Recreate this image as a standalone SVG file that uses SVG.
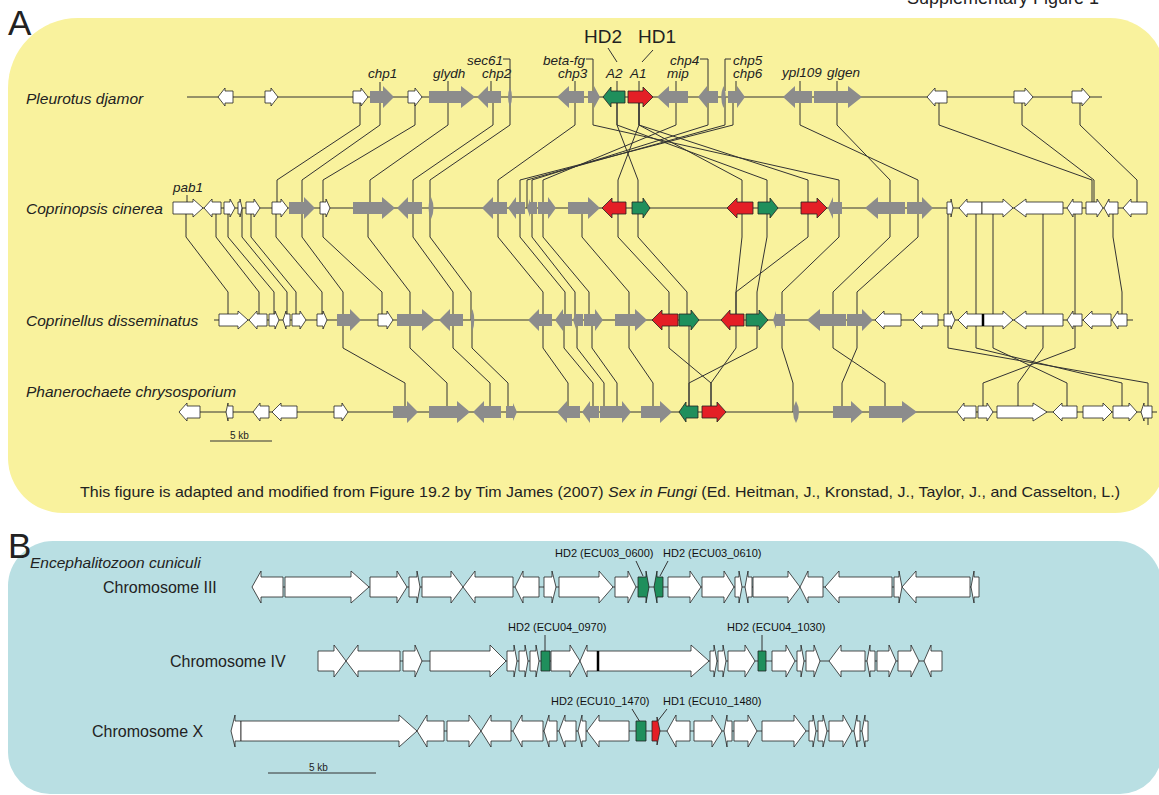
<svg xmlns="http://www.w3.org/2000/svg" width="1159" height="795" viewBox="0 0 1159 795">
<style>
.w{fill:#fff;stroke:#222;stroke-width:.8}
.g{fill:#8c8c8c}
.r{fill:#e41f26;stroke:#222;stroke-width:.8}
.n{fill:#1f8f5c;stroke:#222;stroke-width:.8}
.ln{stroke:#333;stroke-width:1;fill:none}
.bl{stroke:#444;stroke-width:1.2;fill:none}
.sp{font-family:'Liberation Sans',Arial,sans-serif;font-style:italic;font-size:15.5px;fill:#222}
.gl{font-family:'Liberation Sans',Arial,sans-serif;font-style:italic;font-size:13.5px;fill:#222}
.t{font-family:'Liberation Sans',Arial,sans-serif;fill:#222}
.bt{font-family:'Liberation Sans',Arial,sans-serif;font-size:11px;fill:#111}
.seam{stroke:#000;stroke-width:2.5}
</style>
<rect width="1159" height="795" fill="#fff"/>
<text class="t" x="907" y="4" font-size="18">Supplementary Figure 1</text>
<path id="panelA" d="M8,88 A70,70 0 0 1 78,18 H1110 A55,55 0 0 1 1165,73 V463 A50,50 0 0 1 1115,513 H63 A55,55 0 0 1 8,458 Z" fill="#f9f29d"/>
<path id="panelB" d="M8,586 A45,45 0 0 1 53,541 H1117 A45,45 0 0 1 1162,586 V752 A42,42 0 0 1 1120,794 H50 A42,42 0 0 1 8,752 Z" fill="#b9dfe3"/>
<text class="t" x="8" y="35" font-size="35">A</text>
<text class="t" x="8" y="558" font-size="35">B</text>

<g id="connectors" class="ln">
<path d="M360,97V125L277,180V208M380,97V125L302,180V208M415,97V125L323,180V208M448,97V125L370,180V208M493,97V125L413,180V208M510,97V125L430,180V208M575,97V125L498,180V208M593,97V125L839,180V208M617,97V125L638,180V208M617,97V125L767,180V208M639,97V125L618,180V208M639,97V125L742,180V208M639,97V125L808,180V208M676,97V125L543,180V208M708,97V125L532,180V208M725,97V125L527,180V208M733,97V125L520,180V208M800,97V125L918,180V208M837,97V125L890,180V208M939,97V125L1092,180V208M1022,97V125L1094,180V208M1080,97V125L1137,180V208"/>
<path d="M186,208V237L228,292V320M216,208V237L259,292V320M228,208V237L274,292V320M242,208V237L287,292V320M251,208V237L296,292V320M276,208V237L322,292V320M302,208V237L343,292V320M323,208V237L382,292V320M368,208V237L410,292V320M413,208V237L453,292V320M430,208V237L471,292V320M498,208V237L543,292V320M520,208V237L565,292V320M532,208V237L575,292V320M543,208V237L589,292V320M582,208V237L629,292V320M618,208V237L669,292V320M638,208V237L687,292V320M742,208V237L736,292V320M808,208V237L736,292V320M767,208V237L757,292V320M839,208V237L782,292V320M890,208V237L833,292V320M918,208V237L857,292V320M948,208V320M976,208V320M993,208V320M1043,208V320M1075,208V320M1113,208V237L1122,292V320"/>
<path d="M343,320V348L405,383V412M410,320V348L447,383V412M453,320V348L490,383V412M472,320V348L508,383V412M543,320V348L568,383V412M564,320V348L593,383V412M577,320V348L604,383V412M592,320V348L617,383V412M629,320V348L653,383V412M669,320V348L711,383V412M689,320V412M736,320V348L711,383V412M757,320V348L689,383V412M782,320V348L793,383V412M833,320V348L885,383V412M857,320V348L842,383V412M948,320V348L1148,383V425M976,320V348L1122,383V412M993,320V348L1067,383V412M1043,320V348L1018,383V412M1075,320V348L983,383V412"/>
</g>

<g id="labelsA">
<text class="sp" x="26" y="104">Pleurotus djamor</text>
<text class="sp" x="26" y="214">Coprinopsis cinerea</text>
<text class="sp" x="26" y="326">Coprinellus disseminatus</text>
<text class="sp" x="26" y="397">Phanerochaete chrysosporium</text>
<text class="gl" x="368" y="78">chp1</text>
<text class="gl" x="433" y="78">glydh</text>
<text class="gl" x="467" y="65">sec61</text>
<text class="gl" x="482" y="78" font-size="11.5">chp2</text>
<text class="gl" x="543" y="65">beta-fg</text>
<text class="gl" x="558" y="78">chp3</text>
<text class="t" x="584" y="43" font-size="19">HD2</text>
<text class="t" x="638" y="43" font-size="19">HD1</text>
<text class="gl" x="606" y="78" font-size="17">A2</text>
<text class="gl" x="630" y="78" font-size="17">A1</text>
<text class="gl" x="670" y="65">chp4</text>
<text class="gl" x="667" y="78">mip</text>
<text class="gl" x="733" y="65">chp5</text>
<text class="gl" x="733" y="78">chp6</text>
<text class="gl" x="782" y="77">ypl109</text>
<text class="gl" x="827" y="77">glgen</text>
<text class="gl" x="173" y="192">pab1</text>
<path class="ln" d="M380,82V92M448,81V91M503,59H510V91M491,81V91M586,59H593V91M575,81V91M608,48L617,62M653,50L642,62M617,81V91M639,81V91M700,59H708V91M676,81V91M731,59H725V91M736,81V91M800,81V91M837,81V91M187,195V203"/>
</g>

<g id="row1" transform="translate(0,97)">
<path class="ln" d="M187,0H1102"/>
<path id="r1g1" class="w" d="M233,-6H225V-9L218,0L225,9V6H233Z"/>
<path id="r1g2" class="w" d="M265,-6H271V-9L278,0L271,9V6H265Z"/>
<path id="r1g3" class="w" d="M353,-6H361V-9L368,0L361,9V6H353Z"/>
<path id="r1g4" class="g" d="M370,-6H383V-11L394,0L383,11V6H370Z"/>
<path id="r1g5" class="w" d="M408,-6H415V-9L422,0L415,9V6H408Z"/>
<path id="r1g6" class="g" d="M429,-6H461V-11L475,0L461,11V6H429Z"/>
<path id="r1g7" class="g" d="M501,-6H488V-11L477,0L488,11V6H501Z"/>
<path id="r1g8" class="g" d="M510,-10Q514,0 510,10Q506,0 510,-10Z"/>
<path id="r1g9" class="g" d="M584,-6H569V-11L557,0L569,11V6H584Z"/>
<path id="r1g10" class="g" d="M588,-6H594V-11L600,0L594,11V6H588Z"/>
<path id="r1g11" class="n" d="M625,-6H611V-10L603,0L611,10V6H625Z"/>
<path id="r1g12" class="r" d="M628,-6H643V-10L653,0L643,10V6H628Z"/>
<path id="r1g13" class="g" d="M688,-6H669V-11L657,0L669,11V6H688Z"/>
<path id="r1g14" class="g" d="M718,-6H707V-11L698,0L707,11V6H718Z"/>
<path id="r1g15" class="g" d="M723.5,-11Q728,0 723.5,11Q719,0 723.5,-11Z"/>
<path id="r1g16" class="g" d="M728,-6H737V-11L745,0L737,11V6H728Z"/>
<path id="r1g17" class="g" d="M812,-6H795V-11L783,0L795,11V6H812Z"/>
<path id="r1g18" class="g" d="M814,-6H848V-11L862,0L848,11V6H814Z"/>
<path id="r1g19" class="w" d="M947,-6H935V-9L927,0L935,9V6H947Z"/>
<path id="r1g20" class="w" d="M1014,-6H1025V-9L1033,0L1025,9V6H1014Z"/>
<path id="r1g21" class="w" d="M1072,-6H1082V-9L1090,0L1082,9V6H1072Z"/>
</g>

<g id="row2" transform="translate(0,208)">
<path class="ln" d="M173,0H1147"/>
<path id="r2g1" class="w" d="M173,-6H193V-9L203,0L193,9V6H173Z"/>
<path id="r2g2" class="w" d="M221,-6H212V-9L204,0L212,9V6H221Z"/>
<path id="r2g3" class="w" d="M224,-6H230V-9L235,0L230,9V6H224Z"/>
<path id="r2g4" class="w" d="M238,-6H240V-9L242,0L240,9V6H238Z"/>
<path id="r2g5" class="w" d="M246,-6H254V-9L260,0L254,9V6H246Z"/>
<path id="r2g6" class="w" d="M272,-6H281V-9L288,0L281,9V6H272Z"/>
<path id="r2g7" class="g" d="M289,-6H304V-11L315,0L304,11V6H289Z"/>
<path id="r2g8" class="w" d="M320,-6H326V-9L330,0L326,9V6H320Z"/>
<path id="r2g9" class="g" d="M353,-6H382V-11L395,0L382,11V6H353Z"/>
<path id="r2g10" class="g" d="M422,-6H408V-11L397,0L408,11V6H422Z"/>
<path id="r2g11" class="g" d="M431,-11Q436,0 431,11Q426,0 431,-11Z"/>
<path id="r2g12" class="g" d="M507,-6H493V-11L482,0L493,11V6H507Z"/>
<path id="r2g13" class="g" d="M525,-6H516V-11L508,0L516,11V6H525Z"/>
<path id="r2g14" class="g" d="M537,-6H530V-9L527,0L530,9V6H537Z"/>
<path id="r2g15" class="g" d="M538,-6H548V-11L556,0L548,11V6H538Z"/>
<path id="r2g16" class="g" d="M568,-6H588V-11L600,0L588,11V6H568Z"/>
<path id="r2g17" class="r" d="M626,-6H612V-10L602,0L612,10V6H626Z"/>
<path id="r2g18" class="n" d="M632,-6H643V-10L650,0L643,10V6H632Z"/>
<path id="r2g19" class="r" d="M753,-6H737V-10L727,0L737,10V6H753Z"/>
<path id="r2g20" class="n" d="M758,-6H770V-10L778,0L770,10V6H758Z"/>
<path id="r2g21" class="r" d="M801,-6H817V-10L827,0L817,10V6H801Z"/>
<path id="r2g22" class="g" d="M842,-6H833V-11L828,0L833,11V6H842Z"/>
<path id="r2g23" class="g" d="M905,-6H878V-11L865,0L878,11V6H905Z"/>
<path id="r2g24" class="g" d="M907,-6H922V-11L933,0L922,11V6H907Z"/>
<path id="r2g25" class="w" d="M947,-6H951V-9L953,0L951,9V6H947Z"/>
<path id="r2g26" class="w" d="M982,-6H967V-9L959,0L967,9V6H982Z"/>
<path id="r2g27" class="w" d="M982,-6H1003V-9L1013,0L1003,9V6H982Z"/>
<path id="r2g28" class="w" d="M1063,-6H1026V-9L1014,0L1026,9V6H1063Z"/>
<path id="r2g29" class="w" d="M1082,-6H1073V-9L1067,0L1073,9V6H1082Z"/>
<path id="r2g30" class="w" d="M1086,-6H1097V-9L1103,0L1097,9V6H1086Z"/>
<path id="r2g31" class="w" d="M1118,-6H1109V-9L1104,0L1109,9V6H1118Z"/>
<path id="r2g32" class="w" d="M1147,-6H1131V-9L1123,0L1131,9V6H1147Z"/>
</g>

<g id="row3" transform="translate(0,320)">
<path class="ln" d="M214,0H1133"/>
<path id="r3g1" class="w" d="M219,-6H238V-9L248,0L238,9V6H219Z"/>
<path id="r3g2" class="w" d="M267,-6H257V-9L249,0L257,9V6H267Z"/>
<path id="r3g3" class="w" d="M269,-6H275V-9L279,0L275,9V6H269Z"/>
<path id="r3g4" class="w" d="M290,-6H286V-9L283,0L286,9V6H290Z"/>
<path id="r3g5" class="w" d="M292,-6H300V-9L306,0L300,9V6H292Z"/>
<path id="r3g6" class="w" d="M317,-6H323V-9L327,0L323,9V6H317Z"/>
<path id="r3g7" class="g" d="M337,-6H350V-11L361,0L350,11V6H337Z"/>
<path id="r3g8" class="w" d="M378,-6H387V-9L393,0L387,9V6H378Z"/>
<path id="r3g9" class="g" d="M397,-6H422V-11L435,0L422,11V6H397Z"/>
<path id="r3g10" class="g" d="M463,-6H450V-11L439,0L450,11V6H463Z"/>
<path id="r3g11" class="g" d="M472.5,-11Q476,0 472.5,11Q469,0 472.5,-11Z"/>
<path id="r3g12" class="g" d="M552,-6H539V-11L528,0L539,11V6H552Z"/>
<path id="r3g13" class="g" d="M572,-6H563V-11L555,0L563,11V6H572Z"/>
<path id="r3g14" class="g" d="M583,-6H576V-9L573,0L576,9V6H583Z"/>
<path id="r3g15" class="g" d="M584,-6H595V-11L603,0L595,11V6H584Z"/>
<path id="r3g16" class="g" d="M615,-6H635V-11L647,0L635,11V6H615Z"/>
<path id="r3g17" class="r" d="M678,-6H662V-10L652,0L662,10V6H678Z"/>
<path id="r3g18" class="n" d="M679,-6H691V-10L699,0L691,10V6H679Z"/>
<path id="r3g19" class="r" d="M744,-6H730V-10L721,0L730,10V6H744Z"/>
<path id="r3g20" class="n" d="M746,-6H759V-10L768,0L759,10V6H746Z"/>
<path id="r3g21" class="g" d="M785,-6H776V-9L773,0L776,9V6H785Z"/>
<path id="r3g22" class="g" d="M846,-6H820V-11L807,0L820,11V6H846Z"/>
<path id="r3g23" class="g" d="M847,-6H862V-11L873,0L862,11V6H847Z"/>
<path id="r3g24" class="w" d="M901,-6H884V-9L875,0L884,9V6H901Z"/>
<path id="r3g25" class="w" d="M938,-6H922V-9L913,0L922,9V6H938Z"/>
<path id="r3g26" class="w" d="M944,-6H951V-9L955,0L951,9V6H944Z"/>
<path id="r3g27" class="w" d="M983,-6H967V-9L958,0L967,9V6H983Z"/>
<path id="r3g28" class="w" d="M983,-6H1003V-9L1013,0L1003,9V6H983Z"/>
<path class="seam" d="M983,-6V6"/>
<path id="r3g29" class="w" d="M1063,-6H1026V-9L1014,0L1026,9V6H1063Z"/>
<path id="r3g30" class="w" d="M1082,-6H1073V-9L1067,0L1073,9V6H1082Z"/>
<path id="r3g31" class="w" d="M1111,-6H1092V-9L1083,0L1092,9V6H1111Z"/>
<path id="r3g32" class="w" d="M1127,-6H1118V-9L1112,0L1118,9V6H1127Z"/>
</g>

<g id="row4" transform="translate(0,412)">
<path class="ln" d="M179,0H1157"/>
<path id="r4g1" class="w" d="M200,-6H187V-9L179,0L187,9V6H200Z"/>
<path id="r4g2" class="w" d="M233,-6H228V-9L226,0L228,9V6H233Z"/>
<path id="r4g3" class="w" d="M269,-6H260V-9L253,0L260,9V6H269Z"/>
<path id="r4g4" class="w" d="M297,-6H281V-9L272,0L281,9V6H297Z"/>
<path id="r4g5" class="w" d="M334,-6H342V-9L348,0L342,9V6H334Z"/>
<path id="r4g6" class="g" d="M393,-6H407V-11L418,0L407,11V6H393Z"/>
<path id="r4g7" class="g" d="M429,-6H457V-11L470,0L457,11V6H429Z"/>
<path id="r4g8" class="g" d="M501,-6H484V-11L473,0L484,11V6H501Z"/>
<path id="r4g9" class="g" d="M506,-6H513V-9L517,0L513,9V6H506Z"/>
<path id="r4g10" class="g" d="M580,-6H567V-11L557,0L567,11V6H580Z"/>
<path id="r4g11" class="g" d="M599,-6H590V-11L582,0L590,11V6H599Z"/>
<path id="r4g12" class="g" d="M600,-6H610V6H600Z"/>
<path id="r4g13" class="g" d="M610,-6H622V-11L631,0L622,11V6H610Z"/>
<path id="r4g14" class="g" d="M641,-6H660V-11L672,0L660,11V6H641Z"/>
<path id="r4g15" class="n" d="M698,-6H686V-10L679,0L686,10V6H698Z"/>
<path id="r4g16" class="r" d="M702,-6H717V-10L726,0L717,10V6H702Z"/>
<path id="r4g17" class="g" d="M796,-11Q802,0 796,11Q790,0 796,-11Z"/>
<path id="r4g18" class="g" d="M833,-6H851V-11L863,0L851,11V6H833Z"/>
<path id="r4g19" class="g" d="M869,-6H902V-11L917,0L902,11V6H869Z"/>
<path id="r4g20" class="w" d="M976,-6H964V-9L957,0L964,9V6H976Z"/>
<path id="r4g21" class="w" d="M978,-6H987V-9L993,0L987,9V6H978Z"/>
<path id="r4g22" class="w" d="M997,-6H1033V-9L1047,0L1033,9V6H997Z"/>
<path id="r4g23" class="w" d="M1077,-6H1062V-9L1053,0L1062,9V6H1077Z"/>
<path id="r4g24" class="w" d="M1083,-6H1103V-9L1112,0L1103,9V6H1083Z"/>
<path id="r4g25" class="w" d="M1113,-6H1129V-9L1137,0L1129,9V6H1113Z"/>
<path id="r4g26" class="w" d="M1152,-6H1144V-9L1141,0L1144,9V6H1152Z"/>
</g>

<g id="scaleA">
<path class="ln" d="M210,441H272"/>
<text class="t" x="230" y="439" font-size="10">5 kb</text>
</g>
<text id="caption" class="t" x="80" y="497" font-size="14.5" textLength="1040" lengthAdjust="spacingAndGlyphs">This figure is adapted and modified from Figure 19.2 by Tim James (2007) <tspan font-style="italic">Sex in Fungi</tspan> (Ed. Heitman, J., Kronstad, J., Taylor, J., and Casselton, L.)</text>

<g id="labelsB">
<text class="sp" x="30" y="568" font-size="15">Encephalitozoon cuniculi</text>
<text class="t" x="103" y="593" font-size="16">Chromosome III</text>
<text class="t" x="170" y="667" font-size="16">Chromosome IV</text>
<text class="t" x="92" y="737" font-size="16">Chromosome X</text>
<text class="bt" x="555" y="557">HD2 (ECU03_0600)</text>
<text class="bt" x="663" y="557">HD2 (ECU03_0610)</text>
<text class="bt" x="508" y="631">HD2 (ECU04_0970)</text>
<text class="bt" x="727" y="631">HD2 (ECU04_1030)</text>
<text class="bt" x="551" y="705">HD2 (ECU10_1470)</text>
<text class="bt" x="663" y="705">HD1 (ECU10_1480)</text>
<path class="ln" d="M636,561L643,576M668,561L660,576M545,635V652M762,635V652M632,709L640,722M667,709L657,722"/>
</g>

<g id="chr3" transform="translate(0,587)">
<path class="bl" d="M252,0H979"/>
<path class="w" d="M283,-10H261V-16L252,0L261,16V10H283Z"/>
<path class="w" d="M285,-10H351V-16L369,0L351,16V10H285Z"/>
<path class="w" d="M370,-10H397V-16L407,0L397,16V10H370Z"/>
<path class="w" d="M409,-10H417V-16L420,0L417,16V10H409Z"/>
<path class="w" d="M422,-10H451V-16L463,0L451,16V10H422Z"/>
<path class="w" d="M513,-10H475V-16L463,0L475,16V10H513Z"/>
<path class="w" d="M539,-10H523V-16L515,0L523,16V10H539Z"/>
<path class="w" d="M544,-10H552V-16L556,0L552,16V10H544Z"/>
<path class="w" d="M559,-10H599V-16L613,0L599,16V10H559Z"/>
<path class="w" d="M615,-10H628V-16L636,0L628,16V10H615Z"/>
<path class="n" d="M638,-10H646V-16L649,0L646,16V10H638Z"/>
<path class="n" d="M663,-10H657V-16L654,0L657,16V10H663Z"/>
<path class="w" d="M668,-10H690V-16L701,0L690,16V10H668Z"/>
<path class="w" d="M702,-10H724V-16L734,0L724,16V10H702Z"/>
<path class="w" d="M735,-10H739V-16L742,0L739,16V10H735Z"/>
<path class="w" d="M752,-10H748V-16L745,0L748,16V10H752Z"/>
<path class="w" d="M753,-10H788V-16L800,0L788,16V10H753Z"/>
<path class="w" d="M823,-10H808V-16L800,0L808,16V10H823Z"/>
<path class="w" d="M892,-10H839V-16L825,0L839,16V10H892Z"/>
<path class="w" d="M894,-10H899V-16L902,0L899,16V10H894Z"/>
<path class="w" d="M970,-10H916V-16L902,0L916,16V10H970Z"/>
<path class="w" d="M979,-10H974V-16L971,0L974,16V10H979Z"/>
</g>

<g id="chr4" transform="translate(0,661)">
<path class="bl" d="M318,0H942"/>
<path class="w" d="M318,-10H334V-16L346,0L334,16V10H318Z"/>
<path class="w" d="M400,-10H358V-16L346,0L358,16V10H400Z"/>
<path class="w" d="M403,-10H415V-16L422,0L415,16V10H403Z"/>
<path class="w" d="M430,-10H490V-16L506,0L490,16V10H430Z"/>
<path class="w" d="M507,-10H514V-16L517,0L514,16V10H507Z"/>
<path class="w" d="M519,-10H525V-16L528,0L525,16V10H519Z"/>
<path class="w" d="M530,-10H536V-16L539,0L536,16V10H530Z"/>
<path class="n" d="M541,-10H550V10H541Z"/>
<path class="w" d="M551,-10H570V-16L580,0L570,16V10H551Z"/>
<path class="w" d="M598,-10H587V-16L580,0L587,16V10H598Z"/>
<path class="w" d="M598,-10H691V-16L709,0L691,16V10H598Z"/>
<path class="seam" d="M598,-10V10"/>
<path class="w" d="M710,-10H714V-16L717,0L714,16V10H710Z"/>
<path class="w" d="M718,-10H723V-16L726,0L723,16V10H718Z"/>
<path class="w" d="M728,-10H745V-16L755,0L745,16V10H728Z"/>
<path class="n" d="M758,-10H766V10H758Z"/>
<path class="w" d="M772,-10H786V-16L795,0L786,16V10H772Z"/>
<path class="w" d="M797,-10H801V-16L804,0L801,16V10H797Z"/>
<path class="w" d="M806,-10H814V-16L820,0L814,16V10H806Z"/>
<path class="w" d="M865,-10H841V-16L829,0L841,16V10H865Z"/>
<path class="w" d="M875,-10H870V-16L867,0L870,16V10H875Z"/>
<path class="w" d="M877,-10H889V-16L896,0L889,16V10H877Z"/>
<path class="w" d="M898,-10H911V-16L919,0L911,16V10H898Z"/>
<path class="w" d="M942,-10H931V-16L924,0L931,16V10H942Z"/>
</g>

<g id="chrX" transform="translate(0,731)">
<path class="bl" d="M231,0H868"/>
<path class="w" d="M241,-10H235V-16L231,0L235,16V10H241Z"/>
<path class="w" d="M241,-10H399V-16L417,0L399,16V10H241Z"/>
<path class="w" d="M444,-10H427V-16L417,0L427,16V10H444Z"/>
<path class="w" d="M447,-10H469V-16L481,0L469,16V10H447Z"/>
<path class="w" d="M511,-10H491V-16L481,0L491,16V10H511Z"/>
<path class="w" d="M543,-10H522V-16L513,0L522,16V10H543Z"/>
<path class="w" d="M557,-10H549V-16L544,0L549,16V10H557Z"/>
<path class="w" d="M576,-10H565V-16L559,0L565,16V10H576Z"/>
<path class="w" d="M586,-10H582V-16L578,0L582,16V10H586Z"/>
<path class="w" d="M629,-10H599V-16L587,0L599,16V10H629Z"/>
<path class="n" d="M636,-10H646V10H636Z"/>
<path class="r" d="M652,-10H657V-14L660,0L657,14V10H652Z"/>
<path class="w" d="M690,-10H676V-16L667,0L676,16V10H690Z"/>
<path class="w" d="M694,-10H712V-16L722,0L712,16V10H694Z"/>
<path class="w" d="M732,-10H727V-16L724,0L727,16V10H732Z"/>
<path class="w" d="M734,-10H748V-16L757,0L748,16V10H734Z"/>
<path class="w" d="M762,-10H794V-16L806,0L794,16V10H762Z"/>
<path class="w" d="M809,-10H813V-16L816,0L813,16V10H809Z"/>
<path class="w" d="M818,-10H823V-16L827,0L823,16V10H818Z"/>
<path class="w" d="M829,-10H843V-16L852,0L843,16V10H829Z"/>
<path class="w" d="M860,-10H857V-16L854,0L857,16V10H860Z"/>
<path class="w" d="M868,-10H865V-16L862,0L865,16V10H868Z"/>
</g>

<g id="scaleB">
<path class="ln" d="M268,773H376"/>
<text class="t" x="309" y="771" font-size="10">5 kb</text>
</g>
</svg>
